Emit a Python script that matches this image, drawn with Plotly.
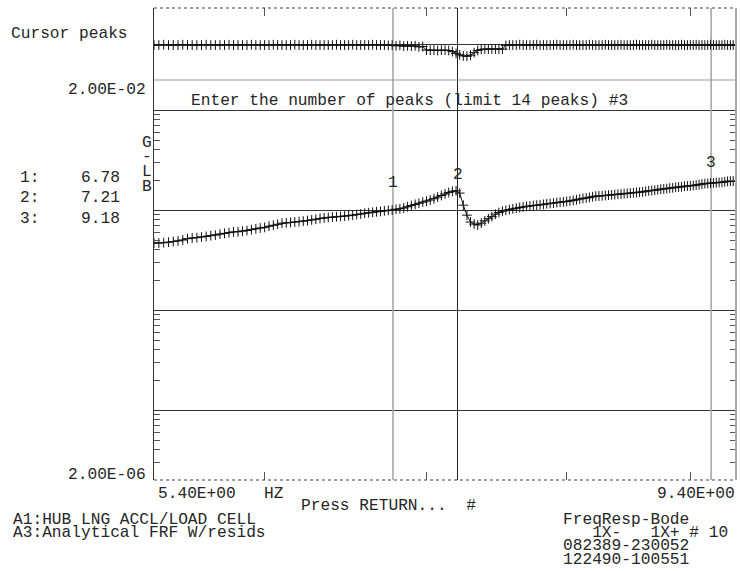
import numpy as np
import plotly.graph_objects as go

# ---------------- data ----------------
FREQ_HZ = [
    5.400, 5.425, 5.450, 5.475, 5.500, 5.525, 5.550, 5.575, 5.600, 5.625, 5.650, 5.675, 5.700, 5.725, 5.750, 5.775, 5.800, 5.825, 5.850, 5.875,
    5.900, 5.925, 5.950, 5.975, 6.000, 6.025, 6.050, 6.075, 6.100, 6.125, 6.150, 6.175, 6.200, 6.225, 6.250, 6.275, 6.300, 6.325, 6.350, 6.375,
    6.400, 6.425, 6.450, 6.475, 6.500, 6.525, 6.550, 6.575, 6.600, 6.625, 6.650, 6.675, 6.700, 6.725, 6.750, 6.775, 6.800, 6.825, 6.850, 6.875,
    6.900, 6.925, 6.950, 6.975, 7.000, 7.025, 7.050, 7.075, 7.100, 7.125, 7.150, 7.175, 7.200, 7.225, 7.250, 7.275, 7.300, 7.325, 7.350, 7.375,
    7.400, 7.425, 7.450, 7.475, 7.500, 7.525, 7.550, 7.575, 7.600, 7.625, 7.650, 7.675, 7.700, 7.725, 7.750, 7.775, 7.800, 7.825, 7.850, 7.875,
    7.900, 7.925, 7.950, 7.975, 8.000, 8.025, 8.050, 8.075, 8.100, 8.125, 8.150, 8.175, 8.200, 8.225, 8.250, 8.275, 8.300, 8.325, 8.350, 8.375,
    8.400, 8.425, 8.450, 8.475, 8.500, 8.525, 8.550, 8.575, 8.600, 8.625, 8.650, 8.675, 8.700, 8.725, 8.750, 8.775, 8.800, 8.825, 8.850, 8.875,
    8.900, 8.925, 8.950, 8.975, 9.000, 9.025, 9.050, 9.075, 9.100, 9.125, 9.150, 9.175, 9.200, 9.225, 9.250, 9.275, 9.300, 9.325, 9.350, 9.375,
    9.400,
]

# FRF magnitude, units of 1e-4 G/LB
MAG_E4 = [
    4.70, 4.68, 4.72, 4.78, 4.85, 4.92, 5.02, 5.18, 5.26, 5.30, 5.38, 5.45, 5.55, 5.62, 5.75, 5.85, 5.95, 6.05, 6.08, 6.15,
    6.25, 6.38, 6.50, 6.62, 6.72, 6.90, 7.05, 7.22, 7.40, 7.45, 7.52, 7.60, 7.68, 7.75, 7.85, 7.98, 8.10, 8.25, 8.35, 8.45,
    8.52, 8.58, 8.65, 8.72, 8.80, 8.90, 9.02, 9.15, 9.30, 9.40, 9.52, 9.62, 9.72, 9.82, 9.95, 10.0, 10.2, 10.3, 10.5, 10.8,
    11.1, 11.4, 11.7, 12.0, 12.3, 12.6, 13.0, 13.5, 14.0, 14.5, 15.0, 15.4, 15.6, 14.8, 11.2, 8.90, 7.60, 7.25, 7.10, 7.40,
    7.80, 8.20, 8.60, 9.10, 9.45, 9.75, 9.95, 10.1, 10.3, 10.45, 10.6, 10.75, 10.9, 11.0, 11.1, 11.2, 11.3, 11.4, 11.55, 11.65,
    11.75, 11.9, 12.0, 12.1, 12.2, 12.35, 12.5, 12.7, 12.9, 13.1, 13.2, 13.4, 13.6, 13.8, 13.85, 13.9, 14.0, 14.1, 14.2, 14.3,
    14.4, 14.5, 14.6, 14.7, 14.8, 14.9, 15.0, 15.1, 15.2, 15.4, 15.6, 15.7, 15.8, 16.0, 16.2, 16.3, 16.4, 16.6, 16.7, 16.9,
    17.0, 17.1, 17.3, 17.4, 17.5, 17.6, 17.8, 18.0, 18.2, 18.4, 18.5, 18.6, 18.7, 18.8, 18.9, 19.0, 19.2, 19.4, 19.5, 19.5,
    19.6,
]

# upper strip (cursor-peaks residual trace), arbitrary units
STRIP = [
    -0.03, -0.03, -0.02, -0.03, -0.03, -0.03, -0.02, -0.03, -0.03, -0.03, -0.03, -0.02, -0.03, -0.03, -0.03, -0.03, -0.02, -0.03, -0.03, -0.03,
    -0.03, -0.02, -0.03, -0.03, -0.03, -0.03, -0.02, -0.03, -0.03, -0.03, -0.03, -0.02, -0.03, -0.03, -0.03, -0.02, -0.03, -0.03, -0.03, -0.03,
    -0.03, -0.02, -0.03, -0.03, -0.03, -0.02, -0.03, -0.03, -0.03, -0.03, -0.02, -0.03, -0.03, -0.03, -0.04, -0.03, -0.05, -0.04, -0.06, -0.05,
    -0.06, -0.05, -0.08, -0.07, -0.17, -0.17, -0.17, -0.18, -0.17, -0.17, -0.18, -0.21, -0.26, -0.30, -0.33, -0.34, -0.31, -0.24, -0.18, -0.15,
    -0.14, -0.14, -0.14, -0.14, -0.14, -0.14, -0.04, -0.03, -0.03, -0.03, -0.02, -0.03, -0.03, -0.03, -0.03, -0.02, -0.03, -0.03, -0.03, -0.03,
    -0.03, -0.02, -0.03, -0.03, -0.03, -0.03, -0.02, -0.03, -0.03, -0.03, -0.03, -0.02, -0.03, -0.03, -0.03, -0.03, -0.02, -0.03, -0.03, -0.03,
    -0.03, -0.02, -0.03, -0.03, -0.03, -0.03, -0.02, -0.03, -0.03, -0.03, -0.03, -0.02, -0.03, -0.03, -0.03, -0.03, -0.02, -0.03, -0.03, -0.03,
    -0.03, -0.02, -0.03, -0.03, -0.03, -0.03, -0.02, -0.03, -0.03, -0.03, -0.03, -0.02, -0.03, -0.03, -0.03, -0.03, -0.02, -0.03, -0.03, -0.03,
    -0.03,
]

CURSOR_IDS = ["1", "2", "3"]
CURSOR_FREQS = [6.78, 7.21, 9.18]
CURSOR_LABEL_MAG_E4 = [10.0, 15.6, 18.6]

X_RANGE = [5.4, 9.4]
Y_RANGE = [2e-6, 2e-2]
STRIP_RANGE = [-1.0, 1.0]

assert len(FREQ_HZ) == len(MAG_E4) == len(STRIP)
mag = [v * 1e-4 for v in MAG_E4]

# ---------------- layout helpers ----------------
W, H = 741, 571
ML, MR, MT, MB = 154, 5, 8, 91
PW, PH = W - ML - MR, H - MT - MB
FONT = "Liberation Mono, Courier New, monospace"
FS = 16.2
INK = "#262626"


def px(x):
    return (x - ML) / PW


def py(y):
    return (H - MB - y) / PH


main_top = (H - MB - 80) / PH  # main log panel spans 2E-6 .. 2E-2

fig = go.Figure()

# cursor lines (drawn under the data)
cur_col = ["#a8a8a8", "#222222", "#a8a8a8"]
cur_w = [1.6, 1.0, 1.6]
for f, c, w in zip(CURSOR_FREQS, cur_col, cur_w):
    fig.add_trace(go.Scatter(x=[f, f], y=Y_RANGE, mode="lines", line=dict(color=c, width=w),
                             xaxis="x", yaxis="y", hoverinfo="skip", showlegend=False))
    fig.add_trace(go.Scatter(x=[f, f], y=STRIP_RANGE, mode="lines", line=dict(color=c, width=w),
                             xaxis="x2", yaxis="y2", hoverinfo="skip", showlegend=False))

fig.add_trace(go.Scatter(
    x=FREQ_HZ, y=mag, mode="lines+markers", xaxis="x", yaxis="y",
    line=dict(color="#111111", width=1),
    marker=dict(symbol="cross-thin", size=7, line=dict(color="#111111", width=1)),
    showlegend=False,
))
fig.add_trace(go.Scatter(
    x=FREQ_HZ, y=STRIP, mode="lines+markers", xaxis="x2", yaxis="y2",
    line=dict(color="#111111", width=1),
    marker=dict(symbol="cross-thin", size=7, line=dict(color="#111111", width=1)),
    showlegend=False,
))

minor_vals = [k * 10.0 ** d for d in range(-6, -1) for k in range(2, 10)
              if Y_RANGE[0] < k * 10.0 ** d < Y_RANGE[1]]
lx = [np.log10(X_RANGE[0]), np.log10(X_RANGE[1])]

fig.update_layout(
    width=W, height=H,
    margin=dict(l=ML, r=MR, t=MT, b=MB),
    paper_bgcolor="white", plot_bgcolor="white",
    showlegend=False,
    font=dict(family=FONT, size=FS, color=INK),
    xaxis=dict(type="log", range=lx, domain=[0, 1], anchor="y",
               tickvals=[6, 7, 8, 9], ticks="inside", ticklen=8, tickcolor="#555555",
               showticklabels=False, showgrid=False, showline=False, zeroline=False),
    xaxis2=dict(type="log", range=lx, domain=[0, 1], anchor="y2", matches="x", side="top",
                tickvals=[6, 7, 8, 9], ticks="inside", ticklen=8, tickcolor="#555555",
                showticklabels=False, showgrid=False, showline=False, zeroline=False),
    yaxis=dict(type="log", range=[np.log10(Y_RANGE[0]), np.log10(Y_RANGE[1])],
               domain=[0, main_top], anchor="x",
               tickvals=[1e-5, 1e-4, 1e-3, 1e-2], ticks="", showticklabels=False,
               showgrid=True, gridcolor="#333333", gridwidth=1,
               showline=True, linecolor="#333333", linewidth=1, mirror="ticks",
               zeroline=False,
               minor=dict(tickvals=minor_vals, ticks="inside", ticklen=6,
                          tickcolor="#555555", showgrid=False)),
    yaxis2=dict(range=STRIP_RANGE, domain=[main_top, 1], anchor="x2",
                showticklabels=False, ticks="", showgrid=False,
                zeroline=True, zerolinecolor="#333333", zerolinewidth=1,
                showline=True, linecolor="#333333", linewidth=1, mirror=True),
)

# frame: dotted top & bottom borders, grey strip separator, grey right border
fig.add_shape(type="line", xref="x domain", yref="y domain", x0=0, x1=1, y0=0, y1=0,
              line=dict(color="#444444", width=1, dash="dot"))
fig.add_shape(type="line", xref="x2 domain", yref="y2 domain", x0=0, x1=1, y0=1, y1=1,
              line=dict(color="#444444", width=1, dash="dot"))
fig.add_shape(type="line", xref="x2 domain", yref="y2 domain", x0=0, x1=1, y0=0, y1=0,
              line=dict(color="#999999", width=1))
fig.add_shape(type="line", xref="x domain", yref="paper", x0=1, x1=1, y0=0, y1=1,
              line=dict(color="#a8a8a8", width=2), layer="above")


def txt(s, x, y, anchor="left", size=FS, color=INK):
    fig.add_annotation(text=s, x=px(x), y=py(y), xref="paper", yref="paper",
                       xanchor=anchor, yanchor="middle", showarrow=False,
                       font=dict(family=FONT, size=size, color=color))


NB = "\u00a0"
txt("Cursor peaks", 9, 34)
txt("2.00E-02", 148, 90, "right")
txt("Enter the number of peaks (limit 14 peaks) #3", 189, 101)
for ch, yy in zip(["G", "-", "L", "B"], [143, 157, 172, 187]):
    txt(ch, 147, yy, "center")
for cid, f, yy in zip(CURSOR_IDS, CURSOR_FREQS, [178, 198, 219]):
    txt(cid + ":", 18, yy)
    txt(f"{f:.2f}", 79, yy)
txt("2.00E-06", 148, 475, "right")
txt("5.40E+00", 156, 494)
txt("HZ", 262, 494)
txt("9.40E+00", 737, 494, "right")
txt("Press RETURN..." + NB * 2 + "#", 299, 506)
txt("A1:HUB LNG ACCL/LOAD CELL", 11, 520)
txt("A3:Analytical FRF W/resids", 11, 533)
txt("FreqResp-Bode", 561, 520)
txt(NB * 3 + "1X-" + NB * 3 + "1X+" + NB + "#" + NB + "10", 561, 533)
txt("082389-230052", 561, 546)
txt("122490-100551", 561, 560)

# peak number labels above the curve at each cursor
for cid, f, m, dy in zip(CURSOR_IDS, CURSOR_FREQS, CURSOR_LABEL_MAG_E4, [27, 16, 20]):
    fig.add_annotation(text=cid, x=np.log10(f), y=np.log10(m * 1e-4), xref="x", yref="y",
                       yshift=dy, showarrow=False, xanchor="center", yanchor="middle",
                       font=dict(family=FONT, size=FS, color=INK))

fig.write_html("out.html")
